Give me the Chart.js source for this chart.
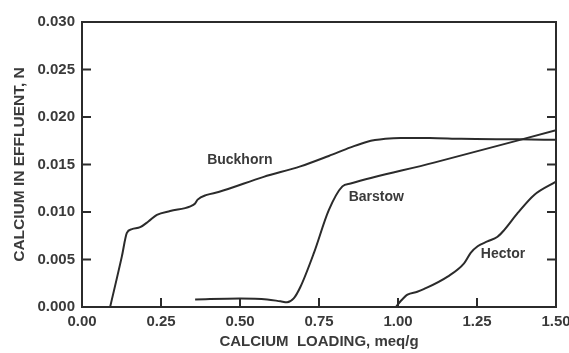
<!DOCTYPE html>
<html>
<head>
<meta charset="utf-8">
<script src="https://cdn.jsdelivr.net/npm/chart.js@4/dist/chart.umd.min.js"></script>
<style>
  html, body { margin: 0; padding: 0; background: #ffffff; }
  #wrap { width: 569px; height: 353px; }
</style>
</head>
<body>
<div id="wrap"><canvas id="c" width="569" height="353"></canvas></div>
<script>
// Breakthrough curves: calcium in effluent vs calcium loading for three clays
const buckhornLoading = [0.089, 0.126, 0.142, 0.158, 0.184, 0.210, 0.237, 0.279, 0.343, 0.358, 0.366, 0.395, 0.432, 0.575, 0.691, 0.781, 0.850, 0.903, 0.960, 1.008, 1.100, 1.200, 1.380, 1.500];
const buckhornCalcium = [0.0000, 0.0053, 0.0078, 0.0082, 0.0084, 0.0090, 0.0097, 0.0101, 0.0106, 0.0109, 0.0113, 0.0118, 0.0121, 0.0137, 0.0148, 0.0159, 0.0168, 0.0174, 0.0177, 0.0178, 0.0178, 0.0177, 0.01765, 0.0176];

const barstowLoading = [0.358, 0.500, 0.586, 0.628, 0.649, 0.670, 0.691, 0.734, 0.781, 0.824, 0.850, 1.114, 1.500];
const barstowCalcium = [0.0008, 0.0009, 0.0008, 0.0006, 0.0005, 0.0009, 0.0021, 0.0057, 0.0102, 0.0127, 0.0130, 0.0152, 0.0186];

const hectorLoading = [0.993, 1.008, 1.030, 1.061, 1.083, 1.157, 1.209, 1.230, 1.252, 1.283, 1.315, 1.336, 1.379, 1.431, 1.500];
const hectorCalcium = [0.0000, 0.0006, 0.0013, 0.0016, 0.0019, 0.0032, 0.0046, 0.0057, 0.0064, 0.0069, 0.0074, 0.0081, 0.0099, 0.0118, 0.0132];

const xTickLabels = ['0.00', '0.25', '0.50', '0.75', '1.00', '1.25', '1.50'];
const yTickLabels = ['0.000', '0.005', '0.010', '0.015', '0.020', '0.025', '0.030'];

const seriesNames = ['Buckhorn', 'Barstow', 'Hector'];
// label anchors, in data units (loading, calcium)
const nameLoading = [0.396, 0.844, 1.262];
const nameCalcium = [0.01547, 0.01158, 0.00558];

const ink = '#2b2b2b';
const textInk = '#3a3a3a';

function toPoints(xs, ys) { return xs.map((x, i) => ({ x: x, y: ys[i] })); }

const curveStyle = {
  showLine: true, borderColor: ink, borderWidth: 2, pointRadius: 0,
  cubicInterpolationMode: 'monotone', fill: false
};

// frame on all four sides plus inward tick marks, and curve names
const framePlugin = {
  id: 'frame',
  beforeDraw(chart) {
    const ctx = chart.ctx;
    ctx.save();
    ctx.fillStyle = '#ffffff';
    ctx.fillRect(0, 0, chart.width, chart.height);
    ctx.restore();
  },
  afterDatasetsDraw(chart) {
    const ctx = chart.ctx;
    const a = chart.chartArea;
    const xs = chart.scales.x, ys = chart.scales.y;
    const len = 9;
    ctx.save();
    ctx.strokeStyle = ink;
    ctx.lineWidth = 2;
    ctx.lineCap = 'square';
    ctx.beginPath();
    ctx.rect(a.left, a.top, a.right - a.left, a.bottom - a.top);
    ctx.stroke();
    ctx.lineCap = 'butt';
    ctx.beginPath();
    xs.ticks.forEach(t => {
      const px = xs.getPixelForValue(t.value);
      if (px <= a.left + 1 || px >= a.right - 1) return;
      ctx.moveTo(px, a.bottom);
      ctx.lineTo(px, a.bottom - len);
    });
    ys.ticks.forEach(t => {
      const py = ys.getPixelForValue(t.value);
      if (py <= a.top + 1 || py >= a.bottom - 1) return;
      ctx.moveTo(a.left, py);
      ctx.lineTo(a.left + len, py);
      ctx.moveTo(a.right, py);
      ctx.lineTo(a.right - len, py);
    });
    ctx.stroke();

    ctx.fillStyle = textInk;
    ctx.font = 'bold 14px "Liberation Sans", Arial, sans-serif';
    ctx.textAlign = 'left';
    ctx.textBaseline = 'middle';
    seriesNames.forEach((name, i) => {
      ctx.fillText(name, xs.getPixelForValue(nameLoading[i]), ys.getPixelForValue(nameCalcium[i]));
    });
    ctx.restore();
  }
};

new Chart(document.getElementById('c'), {
  type: 'scatter',
  data: {
    datasets: [
      Object.assign({ label: seriesNames[0], data: toPoints(buckhornLoading, buckhornCalcium) }, curveStyle),
      Object.assign({ label: seriesNames[1], data: toPoints(barstowLoading, barstowCalcium) }, curveStyle),
      Object.assign({ label: seriesNames[2], data: toPoints(hectorLoading, hectorCalcium) }, curveStyle)
    ]
  },
  options: {
    responsive: false,
    animation: false,
    layout: { padding: { left: 0, right: 13, top: 22, bottom: 0 } },
    plugins: { legend: { display: false }, tooltip: { enabled: false } },
    scales: {
      x: {
        type: 'linear', min: 0, max: 1.5,
        grid: { display: false, drawTicks: false },
        border: { display: false },
        ticks: {
          stepSize: 0.25, padding: 6, color: textInk,
          font: { family: '"Liberation Sans", Arial, sans-serif', size: 15, weight: 'bold' },
          callback: (v, i) => xTickLabels[i]
        },
        title: {
          display: true, text: 'CALCIUM  LOADING, meq/g', color: textInk,
          font: { family: '"Liberation Sans", Arial, sans-serif', size: 15, weight: 'bold' },
          padding: { top: 0, bottom: 2 }
        },
        afterFit(s) { s.height = 46; s.paddingLeft = 0; s.paddingRight = 0; }
      },
      y: {
        type: 'linear', min: 0, max: 0.03,
        grid: { display: false, drawTicks: false },
        border: { display: false },
        ticks: {
          stepSize: 0.005, padding: 7, color: textInk,
          font: { family: '"Liberation Sans", Arial, sans-serif', size: 15, weight: 'bold' },
          callback: (v, i) => yTickLabels[i]
        },
        title: {
          display: true, text: 'CALCIUM IN EFFLUENT, N', color: textInk,
          font: { family: '"Liberation Sans", Arial, sans-serif', size: 15.5, weight: 'bold' },
          padding: { top: 10, bottom: 0 }
        },
        afterFit(s) { s.width = 82; s.paddingTop = 0; s.paddingBottom = 0; }
      }
    }
  },
  plugins: [framePlugin]
});
</script>
</body>
</html>
